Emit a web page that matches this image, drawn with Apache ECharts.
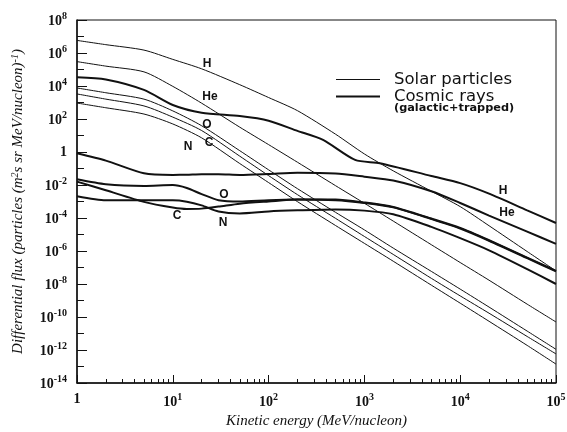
<!DOCTYPE html>
<html><head><meta charset="utf-8">
<script src="https://cdn.jsdelivr.net/npm/echarts@6/dist/echarts.min.js"></script>
<style>html,body{margin:0;padding:0;background:#fff}#c{width:567px;height:432px}</style>
</head><body><div id="c"></div>
<script>
// Kinetic energy grids (MeV/nucleon)
const energy = [1,2,5,10,20,50,100,200,500,1000,2000,5000,1e4,2e4,5e4,1e5];
const energyCosmicH = [1,2,5,10,20,50,100,200,370,800,1450,5000,1e4,2e4,5e4,1e5];
const energyCosmic = [1,2,5,10,14,20,30,50,100,200,500,1000,2000,5000,1e4,2e4,5e4,1e5];

// Solar particles (thin lines)
const solarH  = [5.8e6,3.2e6,1.5e6,4.1e5,1.1e5,1.2e4,2.0e3,3.2e2,12,0.76,7.2e-2,4.2e-3,4.9e-4,3.4e-5,9.3e-7,6.2e-8];
const solarHe = [3.0e5,1.6e5,7.2e4,9.5e3,9.1e2,32,2.8,0.24,9.1e-3,7.8e-4,6.5e-5,2.4e-6,2.0e-7,1.7e-8,6.0e-10,5.0e-11];
const solarO  = [7.6e3,3.9e3,1.6e3,3.1e2,39,1.2,8.3e-2,6.0e-3,2.2e-4,1.9e-5,1.5e-6,5.8e-8,4.9e-9,4.0e-10,1.4e-11,1.1e-12];
const solarC  = [3.3e3,1.6e3,6.2e2,1.3e2,20,0.56,3.7e-2,2.6e-3,9.5e-5,7.6e-6,6.2e-7,2.2e-8,1.9e-9,1.7e-10,6.6e-12,5.8e-13];
const solarN  = [9.3e2,4.8e2,2.0e2,50,7.2,0.20,1.4e-2,9.8e-4,3.5e-5,2.9e-6,2.4e-7,8.5e-9,6.9e-10,5.5e-11,1.9e-12,1.4e-13];

// Cosmic rays, galactic + trapped (thick lines)
const cosmicH  = [3.4e4,2.5e4,5.8e3,7.1e2,2.4e2,1.5e2,79,19,5.4,0.33,0.21,3.5e-2,1.3e-2,3.0e-3,2.9e-4,5.0e-5];
const cosmicHe = [0.83,0.30,5.1e-2,4.1e-2,4.2e-2,4.5e-2,4.5e-2,4.1e-2,4.7e-2,5.6e-2,5.0e-2,3.2e-2,1.9e-2,4.2e-3,8.1e-4,1.4e-4,1.5e-5,2.7e-6];
const cosmicO  = [2.2e-2,1.1e-2,8.7e-3,9.9e-3,6.6e-3,2.8e-3,1.2e-3,1.0e-3,1.2e-3,1.3e-3,1.3e-3,8.7e-4,4.7e-4,9.3e-5,2.5e-5,4.5e-6,4.0e-7,6.2e-8];
const cosmicC  = [1.6e-2,4.8e-3,9.5e-4,4.3e-4,3.5e-4,3.7e-4,4.9e-4,7.4e-4,1.0e-3,1.3e-3,1.2e-3,8.1e-4,4.4e-4,8.7e-5,2.3e-5,4.2e-6,3.7e-7,5.8e-8];
const cosmicN  = [2.1e-3,1.2e-3,1.2e-3,1.2e-3,9.8e-4,5.8e-4,2.5e-4,1.9e-4,2.5e-4,2.9e-4,3.3e-4,2.8e-4,1.7e-4,2.9e-5,6.0e-6,1.1e-6,8.0e-8,1.0e-8];

const legendNames = ['Solar particles','Cosmic rays'];
const legendSub = '(galactic+trapped)';
const xTitle = 'Kinetic energy (MeV/nucleon)';

const ink = '#111';
function mk(name, xs, ys, width) {
  return {
    type: 'line', name: name, symbol: 'none', smooth: 0.25, silent: true,
    lineStyle: { color: ink, width: width }, itemStyle: { color: ink },
    data: xs.map((x, i) => [x, ys[i]])
  };
}
const series = [
  mk(legendNames[0], energy, solarH, 1),
  mk(legendNames[0], energy, solarHe, 1),
  mk(legendNames[0], energy, solarO, 1),
  mk(legendNames[0], energy, solarC, 1),
  mk(legendNames[0], energy, solarN, 1),
  mk(legendNames[1], energyCosmicH, cosmicH, 2),
  mk(legendNames[1], energyCosmic, cosmicHe, 2),
  mk(legendNames[1], energyCosmic, cosmicO, 2),
  mk(legendNames[1], energyCosmic, cosmicC, 2),
  mk(legendNames[1], energyCosmic, cosmicN, 2)
];

function expLabel(v) {
  const e = Math.round(Math.log10(v));
  if (e === 0) return '{b|1}';
  return '{b|10}{s|' + e + '}';
}
const labelRich = {
  b: { fontFamily: 'Liberation Serif', fontWeight: 'bold', fontSize: 14, color: ink, verticalAlign: 'bottom' },
  s: { fontFamily: 'Liberation Serif', fontWeight: 'bold', fontSize: 10, color: ink, padding: [0, 0, 7, 0], verticalAlign: 'bottom' }
};

const tags = [
  ['H', 207, 64], ['He', 210, 97], ['O', 207, 125], ['C', 209, 143], ['N', 188, 147],
  ['H', 503, 191], ['He', 507, 213], ['O', 224, 195], ['C', 177, 216], ['N', 223, 223]
];

const chart = echarts.init(document.getElementById('c'), null, { renderer: 'canvas' });
chart.setOption({
  animation: false,
  backgroundColor: '#fff',
  grid: { left: 77, top: 20, right: 11, bottom: 49, containLabel: false, outerBoundsMode: 'none',
          show: true, borderColor: ink, borderWidth: 1, backgroundColor: 'transparent' },
  legend: {
    orient: 'vertical', left: 331, top: 66, itemWidth: 44, itemHeight: 2, itemGap: 0,
    selectedMode: false, symbolKeepAspect: true,
    data: [
      { name: legendNames[0], icon: 'path://M0,0H44V1H0Z' },
      { name: legendNames[1], icon: 'path://M0,0H44V2H0Z' }
    ],
    itemStyle: { color: ink },
    textStyle: { fontFamily: 'DejaVu Sans', fontSize: 16.5, color: ink, lineHeight: 16, padding: [0, 0, 0, 9] }
  },
  xAxis: {
    type: 'log', logBase: 10, min: 1, max: 1e5,
    name: xTitle, nameLocation: 'middle', nameGap: 31,
    nameTextStyle: { fontFamily: 'Liberation Serif', fontStyle: 'italic', fontSize: 15, color: ink },
    axisLine: { lineStyle: { color: ink, width: 1.5 } },
    axisTick: { inside: true, length: 8, lineStyle: { color: ink } },
    minorTick: { show: true, splitNumber: 9, length: 4, lineStyle: { color: ink } },
    splitLine: { show: false },
    axisLabel: { formatter: expLabel, rich: labelRich, margin: 9 }
  },
  yAxis: [{
    type: 'log', logBase: 10, min: 1e-14, max: 1e8, interval: 2,
    name: '{a|Differential flux (particles (m}{s|2}{a|s sr MeV/nucleon)}{s|-1}{a|)}',
    nameLocation: 'middle', nameGap: 51, nameRotate: 90,
    nameTextStyle: { rich: {
      a: { fontFamily: 'Liberation Serif', fontStyle: 'italic', fontSize: 15, color: ink, verticalAlign: 'bottom' },
      s: { fontFamily: 'Liberation Serif', fontStyle: 'italic', fontSize: 10, color: ink, padding: [0, 0, 6, 0], verticalAlign: 'bottom' }
    } },
    axisLine: { lineStyle: { color: ink, width: 1.5 } },
    axisTick: { inside: true, length: 10, lineStyle: { color: ink } },
    splitLine: { show: false },
    axisLabel: { formatter: expLabel, rich: labelRich, margin: 10 }
  }, {
    type: 'log', logBase: 10, min: 1e-14, max: 1e8, interval: 1, position: 'left',
    axisLine: { show: false },
    axisTick: { inside: true, length: 7, lineStyle: { color: ink } },
    splitLine: { show: false },
    axisLabel: { show: false }
  }],
  graphic: tags.map(t => ({
    type: 'text', x: t[1], y: t[2], silent: true,
    style: { text: t[0], font: 'bold 12px "Liberation Sans"', fill: ink, textAlign: 'center', textVerticalAlign: 'middle' }
  })).concat([{
    type: 'text', x: 394, y: 108, silent: true,
    style: { text: legendSub, font: 'bold 11.3px "DejaVu Sans"', fill: ink, textAlign: 'left', textVerticalAlign: 'middle' }
  }]),
  series: series
});
</script></body></html>
